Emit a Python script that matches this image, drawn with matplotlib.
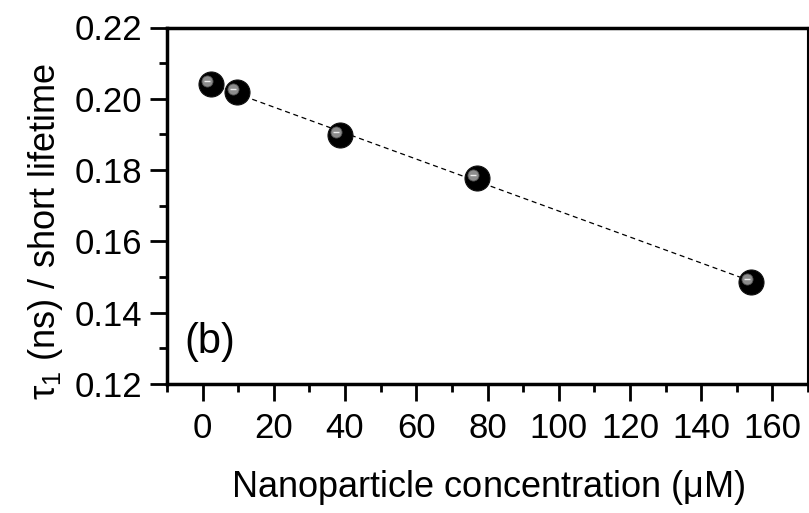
import matplotlib
matplotlib.use("Agg")
import matplotlib.pyplot as plt
import matplotlib.transforms as mtransforms
import numpy as np

# Short lifetime component vs. nanoparticle concentration
concentration = [2.4, 9.6, 38.5, 77.0, 154.0]
tau1 = [0.2042, 0.2018, 0.1898, 0.1777, 0.1487]

x_ticks = [0, 20, 40, 60, 80, 100, 120, 140, 160]
y_ticks = [0.12, 0.14, 0.16, 0.18, 0.20, 0.22]

family = "Liberation Sans"
plt.rcParams["font.family"] = [family, "DejaVu Sans"]
plt.rcParams["mathtext.fontset"] = "custom"
plt.rcParams["mathtext.rm"] = family
plt.rcParams["mathtext.it"] = family

W, H = 809, 513
fig = plt.figure(figsize=(W / 100, H / 100), dpi=100)
ax = fig.add_axes([167 / W, 1 - 384 / H, (808 - 167) / W, (384 - 27.5) / H])

# linear fit through all points
coef = np.polyfit(concentration, tau1, 1)
xf = np.array([min(concentration), max(concentration)])
ax.plot(xf, np.polyval(coef, xf), ls=(0, (4, 3)), color="black", lw=0.9, zorder=2)

# spheres: dark body with a small highlight toward the upper-left
ax.plot(concentration, tau1, ls="none", marker="o", ms=18, mfc="black",
        mec="#111111", mew=0.8, zorder=3)
hl = mtransforms.offset_copy(ax.transData, fig=fig, x=-4, y=3, units="dots")
ax.plot(concentration, tau1, ls="none", marker="o", ms=8, mfc="#8c8c8c",
        mec="#505050", mew=0.6, transform=hl, zorder=4)
ax.plot(concentration, tau1, ls="none", marker="_", ms=5, mec="#eeeeee",
        mew=1.0, transform=hl, zorder=5)

ax.set_xlim(-10, 170)
ax.set_ylim(0.12, 0.22)
ax.set_xticks(x_ticks)
ax.set_yticks(y_ticks)
ax.set_xticks(np.arange(-10, 171, 20), minor=True)
ax.set_yticks(np.arange(0.13, 0.22, 0.02), minor=True)
ax.set_yticklabels([f"{v:.2f}" for v in y_ticks])

ax.tick_params(which="major", direction="out", length=12, width=2, labelsize=25)
ax.tick_params(which="minor", direction="out", length=6, width=2)
ax.tick_params(axis="x", which="major", pad=8.5)
ax.tick_params(axis="y", which="major", pad=6)
ax.tick_params(top=False, right=False)

ax.spines["left"].set_linewidth(2.5)
ax.spines["bottom"].set_linewidth(2.5)
ax.spines["top"].set_linewidth(2.5)
ax.spines["right"].set_linewidth(1.5)

fig.text(488 / W, 1 - 497 / H, r"Nanoparticle concentration ($\mathregular{\mu}$M)",
         fontsize=26, ha="center", va="baseline")
fig.text(46 / W, 1 - 231.5 / H, r"$\mathregular{\tau_1}$ (ns) / short lifetime",
         fontsize=26, rotation=90, ha="center", va="center")

fig.text(184 / W, 1 - 353 / H, "(b)", fontsize=30, ha="left", va="baseline")

fig.savefig("out.png", dpi=100)
